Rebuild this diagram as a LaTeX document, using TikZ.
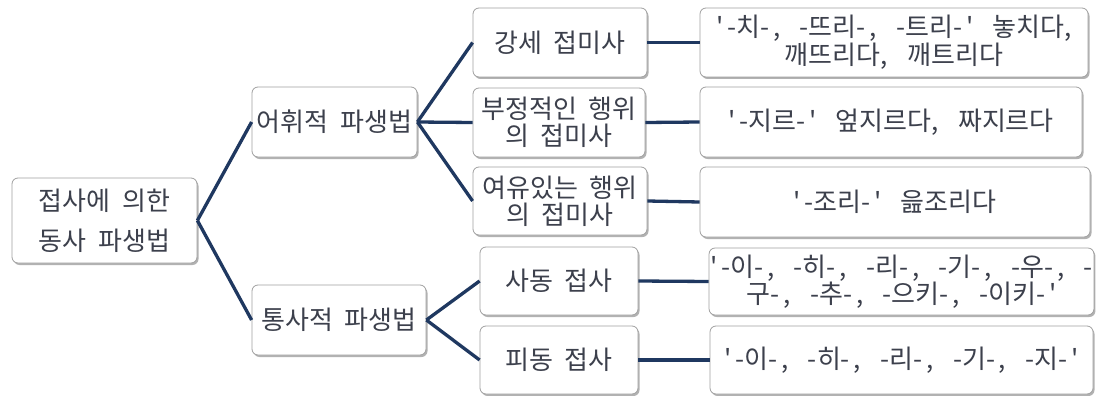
\documentclass[tikz,border=0pt]{standalone}
\usepackage{fontspec}
\setmainfont{Noto Sans CJK KR}[Ligatures=TeXOff, WordSpace=2]
\newcommand{\pmk}[1]{{\addfontfeature{LetterSpace=15}#1}}
\usetikzlibrary{shadows}
\definecolor{txt}{RGB}{60,64,76}
\definecolor{navy}{RGB}{31,56,96}
\definecolor{bord}{RGB}{160,160,160}
\tikzset{
  box/.style={draw=bord, line width=0.8pt, fill=white, rounded corners=6pt,
    align=center, text=txt, inner xsep=1pt, inner ysep=2pt,
    drop shadow={shadow xshift=1.5pt, shadow yshift=-2pt, fill=black, opacity=0.3},
    font=\fontsize{26}{27}\selectfont},
  conn/.style={draw=navy, line width=3.3pt}
}
\begin{document}
\begin{tikzpicture}[x=1pt,y=-1pt]
\useasboundingbox[fill=white] (0,0) rectangle (1098,396);
% level 0
\node[box, minimum width=185pt, minimum height=85pt, font=\fontsize{26}{40}\selectfont] (root) at (104.5,220.5) {접사에 의한\\동사 파생법};
% level 1
\node[box, minimum width=165pt, minimum height=70pt] (lex) at (334.5,122) {어휘적 파생법};
\node[box, minimum width=174pt, minimum height=70pt] (syn) at (339,320) {통사적 파생법};
% level 2
\node[box, minimum width=174pt, minimum height=69pt] (emph) at (560,42.5) {강세 접미사};
\node[box, minimum width=172pt, minimum height=69pt] (neg) at (559,122.5) {부정적인 행위\\의 접미사};
\node[box, minimum width=174pt, minimum height=68pt] (rel) at (560,201) {여유있는 행위\\의 접미사};
\node[box, minimum width=158pt, minimum height=68pt] (caus) at (559,281) {사동 접사};
\node[box, minimum width=158pt, minimum height=68pt] (pass) at (559,360) {피동 접사};
% level 3
\node[box, minimum width=388pt, minimum height=69pt, font=\fontsize{26}{28}\selectfont] (ex1) at (894,42.5) {\pmk{'-}치\pmk{-, -}뜨리\pmk{-, -}트리\pmk{-' }놓치다\pmk{,}\\깨뜨리다\pmk{, }깨트리다};
\node[box, minimum width=382pt, minimum height=70pt] (ex2) at (891,122) {\pmk{'-}지르\pmk{-' }엎지르다\pmk{, }짜지르다};
\node[box, minimum width=390pt, minimum height=70pt] (ex3) at (895,202) {\pmk{'-}조리\pmk{-' }읊조리다};
\node[box, minimum width=383pt, minimum height=67pt, font=\fontsize{26}{26}\selectfont] (ex4) at (901.5,281.5) {\pmk{'-}이\pmk{-, -}히\pmk{-, -}리\pmk{-, -}기\pmk{-, -}우\pmk{-, -}\\구\pmk{-, -}추\pmk{-, -}으키\pmk{-, -}이키\pmk{-'}};
\node[box, minimum width=383pt, minimum height=68pt] (ex5) at (901.5,360) {\pmk{'-}이\pmk{-, -}히\pmk{-, -}리\pmk{-, -}기\pmk{-, -}지\pmk{-'}};
% connectors
\draw[conn] (root.east) -- (lex.west);
\draw[conn] (root.east) -- (syn.west);
\draw[conn] (lex.east) -- (emph.west);
\draw[conn] (lex.east) -- (neg.west);
\draw[conn] (lex.east) -- (rel.west);
\draw[conn] (syn.east) -- (caus.west);
\draw[conn] (syn.east) -- (pass.west);
\draw[conn] (emph.east) -- (ex1.west);
\draw[conn] (neg.east) -- (ex2.west);
\draw[conn] (rel.east) -- (ex3.west);
\draw[conn] (caus.east) -- (ex4.west);
\draw[conn] (pass.east) -- (ex5.west);
\end{tikzpicture}
\end{document}
